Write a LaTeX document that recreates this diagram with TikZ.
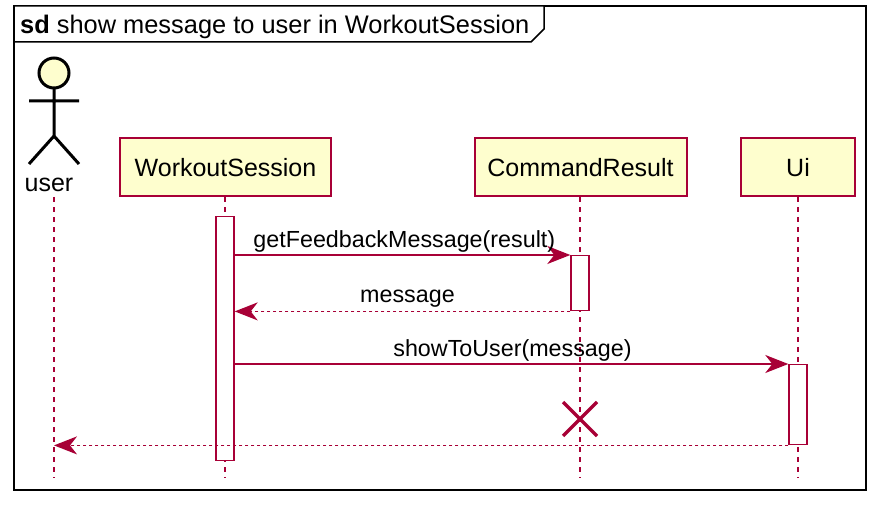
\documentclass[tikz,border=0pt]{standalone}
\usepackage{fontspec}
\setmainfont{Liberation Sans}
\usetikzlibrary{arrows.meta}
\definecolor{pred}{HTML}{A80036}
\definecolor{pfill}{HTML}{FEFECE}
\tikzset{
 x=1pt,y=-1pt,
 part/.style={draw=pred,fill=pfill,line width=2pt,minimum height=58pt,inner sep=0pt},
 partlab/.style={font=\fontsize{25}{28}\selectfont,inner sep=0pt,anchor=base,text=black},
 life/.style={draw=pred,line width=1.2pt,dash pattern=on 5pt off 5pt},
 act/.style={draw=pred,fill=white,line width=1.4pt,minimum width=18pt,inner sep=0pt,anchor=north},
 msg/.style={draw=pred,line width=1.5pt,-{Stealth[length=23pt,width=18pt,inset=7pt]}},
 ret/.style={msg,line width=1.6pt,dash pattern=on 3pt off 3pt},
 lab/.style={font=\fontsize{23.3}{26}\selectfont,inner sep=0pt,anchor=base,text=black},
}
\begin{document}
\begin{tikzpicture}
\useasboundingbox (0,0) rectangle (884,508);
\fill[white] (0,0) rectangle (884,508);
\draw[black,line width=1.5pt] (14,6) rectangle (866,490);
\draw[black,line width=1.5pt,fill=white] (14,42) -- (531,42) -- (544,29) -- (544,6) -- (14,6) -- cycle;
\node[anchor=base west,inner sep=0pt,font=\fontsize{25.4}{28}\selectfont] (title) at (20,34) {\textbf{sd} show message to user in WorkoutSession};
% lifelines
\coordinate (ut) at (54,197); \coordinate (ub) at (54,478);
\coordinate (wt) at (225,197); \coordinate (wb) at (225,478);
\coordinate (ct) at (580,197); \coordinate (cb) at (580,478);
\coordinate (it) at (798,197); \coordinate (ib) at (798,478);
\draw[life] (ut)--(ub); \draw[life] (wt)--(wb); \draw[life] (ct)--(cb); \draw[life] (it)--(ib);
% actor
\draw[black,line width=3pt,fill=pfill] (54,73) circle (15);
\draw[black,line width=3pt] (54,88)--(54,136) (29,101)--(79,101) (29,164)--(54,136)--(79,164);
\node[lab,font=\fontsize{25}{28}\selectfont] (user) at (49,192) {user};
% participants
\node[part,minimum width=211pt] (ws) at (225.5,167) {};
\node[part,minimum width=212pt] (cr) at (580.5,167) {};
\node[part,minimum width=114pt] (ui) at (798,167) {};
\node[partlab] at (225.5,176.5) {WorkoutSession};
\node[partlab] at (580.5,176.5) {CommandResult};
\node[partlab] at (798,176.5) {Ui};
% activations
\node[act,minimum height=244pt] (a1) at (225,216) {};
\node[act,minimum height=55pt] (a2) at (580,255) {};
\node[act,minimum height=80pt] (a3) at (798,364) {};
% messages
\draw[msg] (a1.east|-a2.north) -- (a2.north west) node[lab,pos=0,anchor=base west,xshift=18pt,yshift=8pt] {getFeedbackMessage(result)};
\draw[ret] (a2.south west) -- (a1.east|-a2.south) node[lab,midway,xshift=5pt,yshift=9pt] {message};
\draw[msg] (a1.east|-a3.north) -- (a3.north west) node[lab,midway,xshift=1pt,yshift=8pt] {showToUser(message)};
\draw[pred,line width=3.2pt] (563,402)--(597,436) (563,436)--(597,402);
\draw[ret] (a3.south west) -- (ub|-a3.south);
\end{tikzpicture}
\end{document}
